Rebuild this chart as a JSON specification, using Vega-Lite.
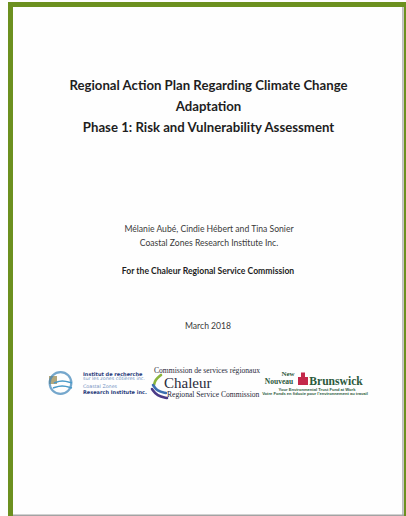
{
  "$schema": "https://vega.github.io/schema/vega-lite/v6.json",
  "width": 406,
  "height": 516,
  "padding": 0,
  "autosize": {"type": "fit", "contains": "padding"},
  "background": "#fefefe",
  "config": {"view": {"stroke": null}, "axis": {"disable": true}},
  "datasets": {
    "frameGreen": [
      {"part": "top", "x": 8, "x2": 406, "y": 2, "y2": 7},
      {"part": "left", "x": 8, "x2": 13, "y": 2, "y2": 516},
      {"part": "right", "x": 404, "x2": 406, "y": 2, "y2": 516}
    ],
    "frameGray": [
      {"part": "right", "x": 402.3, "x2": 403.6, "y": 7, "y2": 516},
      {"part": "bottom", "x": 13, "x2": 404, "y": 514.5, "y2": 516}
    ],
    "title": [
      {"text": "Regional Action Plan Regarding Climate Change", "x": 208.5, "y": 86},
      {"text": "Adaptation", "x": 208.5, "y": 107},
      {"text": "Phase 1: Risk and Vulnerability Assessment", "x": 208.5, "y": 128}
    ],
    "body": [
      {"text": "Mélanie Aubé, Cindie Hébert and Tina Sonier", "x": 209, "y": 229},
      {"text": "Coastal Zones Research Institute Inc.", "x": 209, "y": 243},
      {"text": "March 2018", "x": 208, "y": 326}
    ],
    "bodyBold": [
      {"text": "For the Chaleur Regional Service Commission", "x": 208, "y": 271}
    ],
    "iruNavy": [
      {"text": "Institut de recherche", "x": 83, "y": 373.5},
      {"text": "Research Institute inc.", "x": 83, "y": 392}
    ],
    "iruLight": [
      {"text": "sur les zones côtières inc.", "x": 83, "y": 379},
      {"text": "Coastal Zones", "x": 83, "y": 386.5}
    ],
    "iruIcon": [
      {"x": 60.5, "y": 383}
    ],
    "iruWaves": [
      {"line": "a", "order": 1, "x": 54, "y": 383},
      {"line": "a", "order": 2, "x": 62, "y": 380},
      {"line": "a", "order": 3, "x": 72, "y": 383},
      {"line": "b", "order": 1, "x": 53, "y": 388},
      {"line": "b", "order": 2, "x": 62, "y": 385},
      {"line": "b", "order": 3, "x": 72, "y": 388}
    ],
    "iruField": [
      {"x": 49, "x2": 57, "y": 376, "y2": 384}
    ],
    "csrSmall": [
      {"text": "Commission de services régionaux", "x": 154, "y": 371}
    ],
    "csrBig": [
      {"text": "Chaleur", "x": 164, "y": 382.5}
    ],
    "csrSub": [
      {"text": "Regional Service Commission", "x": 167, "y": 394.5}
    ],
    "swoosh": [
      {"band": "green", "order": 1, "x": 161, "y": 375},
      {"band": "green", "order": 2, "x": 155, "y": 380},
      {"band": "green", "order": 3, "x": 154, "y": 385},
      {"band": "blue", "order": 1, "x": 153, "y": 385},
      {"band": "blue", "order": 2, "x": 157, "y": 391},
      {"band": "blue", "order": 3, "x": 166, "y": 393},
      {"band": "purple", "order": 1, "x": 152, "y": 389},
      {"band": "purple", "order": 2, "x": 157, "y": 396},
      {"band": "purple", "order": 3, "x": 167, "y": 398}
    ],
    "nbNew": [
      {"text": "New", "x": 288, "y": 373.5}
    ],
    "nbNouveau": [
      {"text": "Nouveau", "x": 279, "y": 382}
    ],
    "nbBig": [
      {"text": "Brunswick", "x": 336, "y": 381.5}
    ],
    "nbIcon": [
      {"x": 298, "x2": 308, "y": 377, "y2": 385}
    ],
    "nbIconTop": [
      {"x": 301, "x2": 305, "y": 372.5, "y2": 377}
    ],
    "nbTiny": [
      {"text": "Your Environmental Trust Fund at Work", "x": 317, "y": 389.5},
      {"text": "Votre Fonds en fiducie pour l'environnement au travail", "x": 315, "y": 394}
    ]
  },
  "encoding": {
    "x": {"field": "x", "type": "quantitative", "scale": {"domain": [0, 406], "nice": false, "zero": false}},
    "y": {"field": "y", "type": "quantitative", "scale": {"domain": [0, 516], "nice": false, "zero": false, "reverse": true}}
  },
  "layer": [
    {
      "data": {"name": "frameGreen"},
      "mark": {"type": "rect", "color": "#6c901f"},
      "encoding": {"x2": {"field": "x2"}, "y2": {"field": "y2"}}
    },
    {
      "data": {"name": "frameGray"},
      "mark": {"type": "rect", "color": "#a3a3a3"},
      "encoding": {"x2": {"field": "x2"}, "y2": {"field": "y2"}}
    },
    {
      "data": {"name": "title"},
      "mark": {"type": "text", "font": "Lato", "fontWeight": "bold", "fontSize": 13.2, "color": "#1e1e1e", "align": "center", "baseline": "middle"},
      "encoding": {"text": {"field": "text"}}
    },
    {
      "data": {"name": "body"},
      "mark": {"type": "text", "font": "Lato", "fontSize": 8.6, "color": "#3a3a3a", "align": "center", "baseline": "middle"},
      "encoding": {"text": {"field": "text"}}
    },
    {
      "data": {"name": "bodyBold"},
      "mark": {"type": "text", "font": "Lato", "fontWeight": "bold", "fontSize": 8.6, "color": "#1e1e1e", "align": "center", "baseline": "middle"},
      "encoding": {"text": {"field": "text"}}
    },
    {
      "data": {"name": "iruField"},
      "mark": {"type": "rect", "color": "#9a8a50", "opacity": 0.75},
      "encoding": {"x2": {"field": "x2"}, "y2": {"field": "y2"}}
    },
    {
      "data": {"name": "iruIcon"},
      "mark": {"type": "point", "shape": "circle", "size": 470, "filled": false, "stroke": "#3c83b8", "strokeWidth": 2.2},
      "encoding": {}
    },
    {
      "data": {"name": "iruWaves"},
      "mark": {"type": "line", "interpolate": "basis", "strokeWidth": 1.6, "color": "#4a9ac8"},
      "encoding": {"order": {"field": "order"}, "detail": {"field": "line"}}
    },
    {
      "data": {"name": "iruNavy"},
      "mark": {"type": "text", "font": "DejaVu Sans", "fontWeight": "bold", "fontSize": 5, "color": "#283a7a", "align": "left", "baseline": "middle"},
      "encoding": {"text": {"field": "text"}}
    },
    {
      "data": {"name": "iruLight"},
      "mark": {"type": "text", "font": "DejaVu Sans", "fontSize": 4.8, "color": "#6f8fc0", "align": "left", "baseline": "middle"},
      "encoding": {"text": {"field": "text"}}
    },
    {
      "data": {"name": "swoosh"},
      "mark": {"type": "line", "interpolate": "basis", "strokeWidth": 2.6, "strokeCap": "round"},
      "encoding": {
        "order": {"field": "order"},
        "color": {"field": "band", "type": "nominal", "legend": null, "scale": {"domain": ["green", "blue", "purple"], "range": ["#8ab43c", "#3d6fb0", "#4a3a86"]}}
      }
    },
    {
      "data": {"name": "csrSmall"},
      "mark": {"type": "text", "font": "Liberation Serif", "fontSize": 7.6, "color": "#2a2a3a", "align": "left", "baseline": "middle"},
      "encoding": {"text": {"field": "text"}}
    },
    {
      "data": {"name": "csrBig"},
      "mark": {"type": "text", "font": "Liberation Serif", "fontSize": 15, "color": "#2a2a3a", "align": "left", "baseline": "middle"},
      "encoding": {"text": {"field": "text"}}
    },
    {
      "data": {"name": "csrSub"},
      "mark": {"type": "text", "font": "Liberation Serif", "fontSize": 7.6, "color": "#2a2a3a", "align": "left", "baseline": "middle"},
      "encoding": {"text": {"field": "text"}}
    },
    {
      "data": {"name": "nbNew"},
      "mark": {"type": "text", "font": "Liberation Serif", "fontWeight": "bold", "fontSize": 7, "color": "#2c5a3c", "align": "center", "baseline": "middle"},
      "encoding": {"text": {"field": "text"}}
    },
    {
      "data": {"name": "nbNouveau"},
      "mark": {"type": "text", "font": "Liberation Serif", "fontWeight": "bold", "fontSize": 7.5, "color": "#2c5a3c", "align": "center", "baseline": "middle"},
      "encoding": {"text": {"field": "text"}}
    },
    {
      "data": {"name": "nbIcon"},
      "mark": {"type": "rect", "color": "#c4284a"},
      "encoding": {"x2": {"field": "x2"}, "y2": {"field": "y2"}}
    },
    {
      "data": {"name": "nbIconTop"},
      "mark": {"type": "rect", "color": "#c4284a"},
      "encoding": {"x2": {"field": "x2"}, "y2": {"field": "y2"}}
    },
    {
      "data": {"name": "nbBig"},
      "mark": {"type": "text", "font": "Liberation Serif", "fontWeight": "bold", "fontSize": 11.6, "color": "#2c5a3c", "align": "center", "baseline": "middle"},
      "encoding": {"text": {"field": "text"}}
    },
    {
      "data": {"name": "nbTiny"},
      "mark": {"type": "text", "font": "Liberation Sans", "fontWeight": "bold", "fontSize": 4.1, "color": "#2c5a3c", "align": "center", "baseline": "middle"},
      "encoding": {"text": {"field": "text"}}
    }
  ]
}
